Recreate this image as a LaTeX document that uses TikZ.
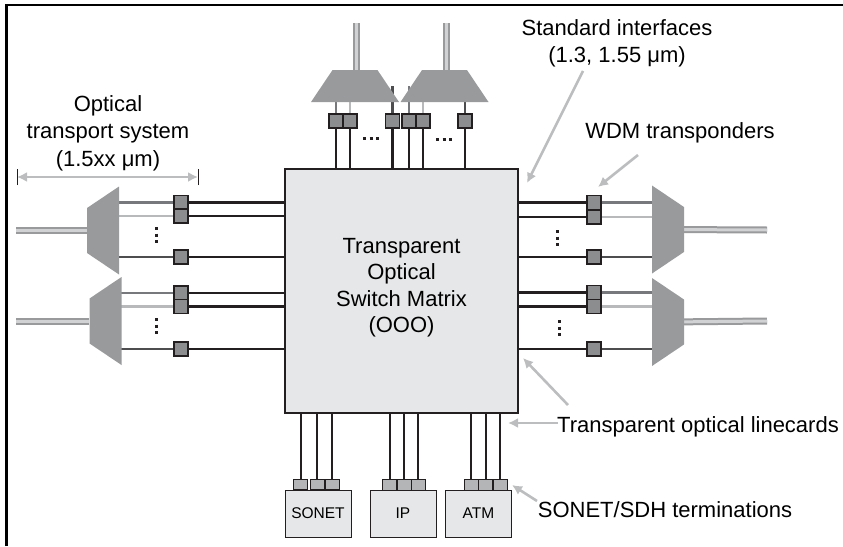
\documentclass[tikz,border=0pt]{standalone}
\usepackage{fontspec}
\setmainfont{Liberation Sans}
\usetikzlibrary{arrows.meta, shapes.geometric, backgrounds}
\definecolor{muxcol}   {HTML}{999A9C}
\definecolor{transcol} {HTML}{8C8D8F}
\definecolor{termcol}  {HTML}{B4B5B7}
\definecolor{boxcol}   {HTML}{E6E7E8}
\definecolor{arrcol}   {HTML}{BCBDBF}
\definecolor{linecol}  {HTML}{231F20}
\definecolor{midline}  {HTML}{77787B}
\definecolor{paleline} {HTML}{B8B9BB}
\definecolor{darkline} {HTML}{4D4D4F}
\definecolor{fibrein}  {HTML}{D1D2D4}

\begin{document}
\begin{tikzpicture}[
    x=1pt, y=-1pt,
    font=\fontsize{22}{26}\selectfont,
    matrixbox/.style={draw=linecol, line width=1.2pt, fill=boxcol, minimum width=233pt,
                minimum height=244pt, inner sep=0pt},
    mux/.style={trapezium, trapezium stretches=true, trapezium angle=64.4, fill=muxcol,
                minimum width=88pt, minimum height=32pt, inner sep=1pt},
    trans/.style={draw=linecol, line width=1.5pt, fill=transcol, minimum size=14pt, inner sep=0pt},
    term/.style={draw=linecol, line width=0.8pt, fill=termcol, minimum width=14pt,
                minimum height=10.5pt, inner sep=0pt},
    client/.style={draw=linecol, line width=0.8pt, fill=boxcol, minimum width=66pt,
                minimum height=47pt, inner sep=0pt, font=\fontsize{15.5}{18}\selectfont},
    label/.style={align=center, inner sep=0pt, font=\fontsize{22}{27.5}\selectfont},
    dotsv/.style={line width=3pt, dash pattern=on 3pt off 3.5pt, color=linecol},
    blk/.style={line width=2.6pt, color=linecol},
    blkthin/.style={line width=2pt, color=linecol},
    midfib/.style={line width=2.6pt, color=midline},
    palefib/.style={line width=2.6pt, color=paleline},
    darkfib/.style={line width=2.6pt, color=darkline},
    fibre/.style={line width=2pt, color=muxcol, double=fibrein, double distance=3pt},
    arr/.style={-{Latex[length=10pt, width=10pt]}, line width=2.6pt, color=arrcol},
  ]
    \useasboundingbox (0,0) rectangle (843,546);

    % frame
    \coordinate (fa) at (6.5,546);
    \coordinate (fb) at (6.5,5);
    \coordinate (fc) at (843,5);
    \draw[line width=2.2pt, color=black] (fa) -- (fb) -- (fc);

    \node[matrixbox] (switch) at (401.5,291) {};
    \node[label, font=\fontsize{22}{26.5}\selectfont] (switchlab) at (401.5,287.5)
      {Transparent\\Optical\\Switch Matrix\\(OOO)};

    % muxes
    \node[mux, shape border rotate=90] (muxl1) at (103,230.5) {};
    \node[mux, shape border rotate=90] (muxl2) at (105.5,321) {};
    \node[mux, shape border rotate=270] (muxr1) at (668,229.5) {};
    \node[mux, shape border rotate=270] (muxr2) at (668,322) {};
    \node[mux] (muxt1) at (355,86) {};
    \node[mux] (muxt2) at (444.5,86) {};

    % transponders
    \node[trans] (tl1) at (181,202.5) {};
    \node[trans] (tl2) at (181,216) {};
    \node[trans] (tl3) at (181,257) {};
    \node[trans] (tl4) at (181,293) {};
    \node[trans] (tl5) at (181,306.5) {};
    \node[trans] (tl6) at (181,349) {};
    \node[trans] (tr1) at (594,202.5) {};
    \node[trans] (tr2) at (594,217) {};
    \node[trans] (tr3) at (594,257) {};
    \node[trans] (tr4) at (594,292.5) {};
    \node[trans] (tr5) at (594,306.5) {};
    \node[trans] (tr6) at (594,349) {};
    \node[trans] (tt1) at (336,121) {};
    \node[trans] (tt2) at (350,121) {};
    \node[trans] (tt3) at (392.5,121) {};
    \node[trans] (tt4) at (409,121) {};
    \node[trans] (tt5) at (423,121) {};
    \node[trans] (tt6) at (465,121) {};

    % client boxes
    \node[client] (sonet) at (318,513.5) {SONET};
    \node[client] (ip) at (403,513.5) {IP};
    \node[client] (atm) at (478.5,513.5) {ATM};
    \node[term] (s1) at (300.5,484.5) {};
    \node[term] (s2) at (317,484.5) {};
    \node[term] (s3) at (332,484.5) {};
    \node[term] (i1) at (389.5,485) {};
    \node[term] (i2) at (404,485) {};
    \node[term] (i3) at (418,485) {};
    \node[term] (a1) at (471,485) {};
    \node[term] (a2) at (485.5,485) {};
    \node[term] (a3) at (500,485) {};

    % fibres
    \coordinate (fl1) at (16,230.5);
    \coordinate (fl2) at (16,321);
    \coordinate (fr1) at (767,230);
    \coordinate (fr2) at (767,321);
    \coordinate (ft1) at (356,23);
    \coordinate (ft2) at (446,23);

    \begin{scope}[on background layer]
      \draw[fibre] (muxl1) -- (fl1);
      \draw[fibre] (muxl2) -- (fl2);
      \draw[fibre] (muxr1) -- (fr1);
      \draw[fibre] (muxr2) -- (fr2);
      \draw[fibre] (ft1) -- (ft1 |- muxt1);
      \draw[fibre] (ft2) -- (ft2 |- muxt2);

      \draw[midfib] (tl1) -- (tl1 -| muxl1);
      \draw[palefib] (tl2) -- (tl2 -| muxl1);
      \draw[darkfib] (tl3) -- (tl3 -| muxl1);
      \draw[midfib] (tl4) -- (tl4 -| muxl2);
      \draw[palefib] (tl5) -- (tl5 -| muxl2);
      \draw[darkfib] (tl6) -- (tl6 -| muxl2);
      \draw[midfib] (tr1) -- (tr1 -| muxr1);
      \draw[palefib] (tr2) -- (tr2 -| muxr1);
      \draw[darkfib] (tr3) -- (tr3 -| muxr1);
      \draw[midfib] (tr4) -- (tr4 -| muxr2);
      \draw[palefib] (tr5) -- (tr5 -| muxr2);
      \draw[darkfib] (tr6) -- (tr6 -| muxr2);
      \draw[midfib] (tt1) -- (tt1 |- muxt1);
      \draw[palefib] (tt2) -- (tt2 |- muxt1);
      \draw[darkfib] (tt3) -- (tt3 |- muxt1);
      \draw[midfib] (tt4) -- (tt4 |- muxt2);
      \draw[palefib] (tt5) -- (tt5 |- muxt2);
      \draw[darkfib] (tt6) -- (tt6 |- muxt2);

      \draw[blk] (tl1) -- (tl1 -| switch);
      \draw[blk] (tl2) -- (tl2 -| switch);
      \draw[blk] (tl3) -- (tl3 -| switch);
      \draw[blk] (tl4) -- (tl4 -| switch);
      \draw[blk] (tl5) -- (tl5 -| switch);
      \draw[blk] (tl6) -- (tl6 -| switch);
      \draw[blk] (tr1) -- (tr1 -| switch);
      \draw[blk] (tr2) -- (tr2 -| switch);
      \draw[blk] (tr3) -- (tr3 -| switch);
      \draw[blk] (tr4) -- (tr4 -| switch);
      \draw[blk] (tr5) -- (tr5 -| switch);
      \draw[blk] (tr6) -- (tr6 -| switch);
      \draw[blk] (tt1) -- (tt1 |- switch);
      \draw[blk] (tt2) -- (tt2 |- switch);
      \draw[blk] (tt3) -- (tt3 |- switch);
      \draw[blk] (tt4) -- (tt4 |- switch);
      \draw[blk] (tt5) -- (tt5 |- switch);
      \draw[blk] (tt6) -- (tt6 |- switch);

      \draw[blkthin] (s1) -- (s1 |- switch);
      \draw[blkthin] (s2) -- (s2 |- switch);
      \draw[blkthin] (s3) -- (s3 |- switch);
      \draw[blkthin] (i1) -- (i1 |- switch);
      \draw[blkthin] (i2) -- (i2 |- switch);
      \draw[blkthin] (i3) -- (i3 |- switch);
      \draw[blkthin] (a1) -- (a1 |- switch);
      \draw[blkthin] (a2) -- (a2 |- switch);
      \draw[blkthin] (a3) -- (a3 |- switch);
    \end{scope}

    % dots
    \coordinate (d1a) at (156,227);
    \coordinate (d1b) at (156,243);
    \coordinate (d2a) at (156,318);
    \coordinate (d2b) at (156,334);
    \coordinate (d3a) at (557,230);
    \coordinate (d3b) at (557,246);
    \coordinate (d4a) at (559.5,320);
    \coordinate (d4b) at (559.5,336);
    \coordinate (d5a) at (363,138.5);
    \coordinate (d5b) at (379,138.5);
    \coordinate (d6a) at (436,139);
    \coordinate (d6b) at (452,139);
    \draw[dotsv] (d1a) -- (d1b);
    \draw[dotsv] (d2a) -- (d2b);
    \draw[dotsv] (d3a) -- (d3b);
    \draw[dotsv] (d4a) -- (d4b);
    \draw[dotsv] (d5a) -- (d5b);
    \draw[dotsv] (d6a) -- (d6b);

    % labels
    \node[label] (otslab) at (108,133) {Optical\\transport system\\(1.5xx μm)};
    \node[label] (stdlab) at (617,43.5) {Standard interfaces\\(1.3, 1.55 μm)};
    \node[label] (wdmlab) at (680,133) {WDM transponders};
    \node[label] (linelab) at (698,427) {Transparent optical linecards};
    \node[label] (sdhlab) at (665,510) {SONET/SDH terminations};

    % span arrow
    \coordinate (spana) at (17,177);
    \coordinate (spanb) at (198,177);
    \draw[{Latex[length=10pt, width=10pt]}-{Latex[length=10pt, width=10pt]}, line width=2pt, color=arrcol] (spana) -- (spanb);
    \draw[line width=1pt, color=linecol] ([yshift=-8pt]spana) -- ([yshift=8pt]spana);
    \draw[line width=1pt, color=linecol] ([yshift=-8pt]spanb) -- ([yshift=8pt]spanb);

    % callout arrows
    \coordinate (stdtip) at (527,183);
    \coordinate (stdend) at (583,71);
    \coordinate (wdmtip) at (598,187);
    \coordinate (wdmend) at (638,155);
    \coordinate (cardtip) at (523,358);
    \coordinate (cardend) at (568,405);
    \coordinate (linetip) at (508,423);
    \coordinate (lineend) at (558,423);
    \coordinate (sdhtip) at (512,485);
    \coordinate (sdhend) at (537,501);
    \draw[arr] (stdend) -- (stdtip);
    \draw[arr] (wdmend) -- (wdmtip);
    \draw[arr] (cardend) -- (cardtip);
    \draw[arr] (lineend) -- (linetip);
    \draw[arr] (sdhend) -- (sdhtip);
  \end{tikzpicture}
\end{document}
